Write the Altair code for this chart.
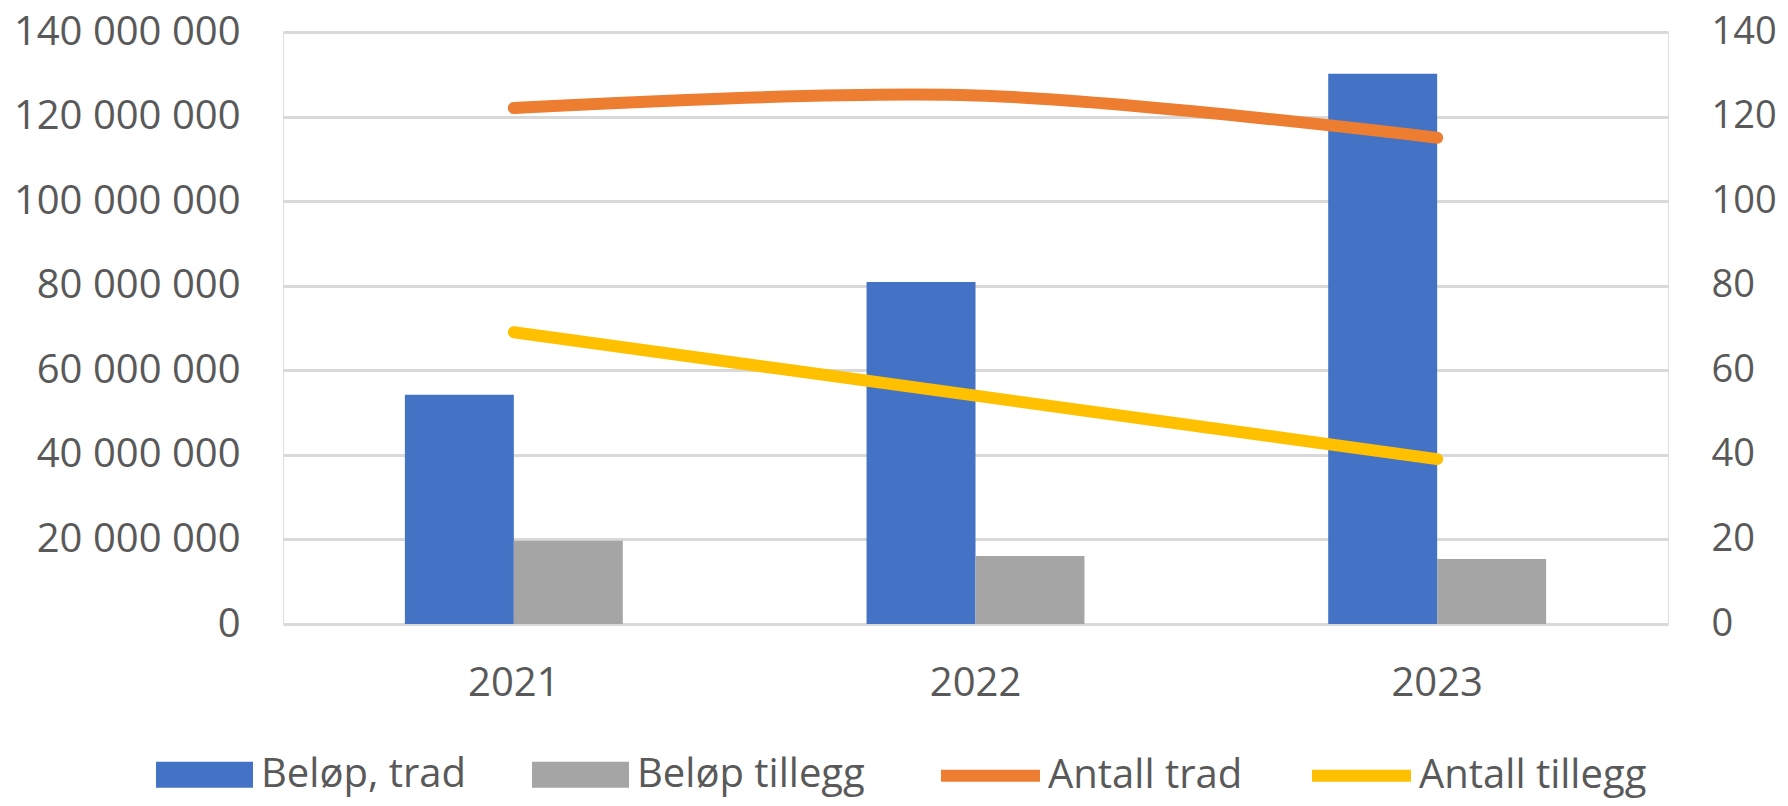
import altair as alt
import pandas as pd

years = ["2021", "2022", "2023"]
belop_trad = [54_200_000, 80_900_000, 130_100_000]
belop_tillegg = [19_700_000, 16_100_000, 15_400_000]
antall_trad = [122, 125, 115]
antall_tillegg = [69, 54, 39]

bar_series = ["Beløp, trad", "Beløp tillegg"]
line_series = ["Antall trad", "Antall tillegg"]
bar_colors = ["#4472C4", "#A5A5A5"]
line_colors = ["#ED7D31", "#FFC000"]

bars_df = pd.DataFrame(
    [{"year": y, "serie": bar_series[0], "value": v} for y, v in zip(years, belop_trad)]
    + [{"year": y, "serie": bar_series[1], "value": v} for y, v in zip(years, belop_tillegg)]
)
lines_df = pd.DataFrame(
    [{"year": y, "serie": line_series[0], "value": v} for y, v in zip(years, antall_trad)]
    + [{"year": y, "serie": line_series[1], "value": v} for y, v in zip(years, antall_tillegg)]
)

FONT = "Open Sans"
TXT = "#595959"

x_enc = alt.X(
    "year:N",
    sort=years,
    scale=alt.Scale(paddingInner=0.528, paddingOuter=0.264),
    axis=alt.Axis(
        title=None, labelFontSize=40, labelColor=TXT, labelFont=FONT, labelLimit=0,
        ticks=False, tickSize=0, domain=False, labelPadding=39, labelAngle=0, grid=False,
    ),
)

bars = alt.Chart(bars_df).mark_bar().encode(
    x=x_enc,
    xOffset=alt.XOffset("serie:N", sort=bar_series, scale=alt.Scale(paddingInner=0, paddingOuter=0)),
    y=alt.Y(
        "value:Q",
        scale=alt.Scale(domain=[0, 140_000_000], nice=False),
        axis=alt.Axis(
            title=None, orient="left",
            values=[0, 20_000_000, 40_000_000, 60_000_000, 80_000_000, 100_000_000, 120_000_000, 140_000_000],
            labelExpr="replace(replace(format(datum.value, ','), ',', ' '), ',', ' ')",
            labelFontSize=40, labelColor=TXT, labelFont=FONT, labelPadding=43, labelLimit=0,
            ticks=False, tickSize=0, domain=False,
            grid=True, gridColor="#D9D9D9", gridWidth=3,
        ),
    ),
    color=alt.Color(
        "serie:N",
        scale=alt.Scale(domain=bar_series, range=bar_colors),
        legend=alt.Legend(
            title=None, orient="none", direction="horizontal",
            legendX=-127, legendY=694,
            symbolType="M-1,-0.268H1V0.268H-1Z", symbolSize=9409, symbolStrokeWidth=0,
            labelFontSize=40, labelColor=TXT, labelFont=FONT, labelOffset=8, labelLimit=0,
            columnPadding=66, padding=0,
        ),
    ),
)

lines = alt.Chart(lines_df).mark_line(
    strokeWidth=12, strokeCap="round", strokeJoin="round", interpolate="cardinal", tension=0
).encode(
    x=alt.X("year:N", sort=years),
    y=alt.Y(
        "value:Q",
        scale=alt.Scale(domain=[0, 140], nice=False),
        axis=alt.Axis(
            title=None, orient="right",
            values=[0, 20, 40, 60, 80, 100, 120, 140],
            labelFontSize=38, labelColor=TXT, labelFont=FONT, labelPadding=43, labelLimit=0,
            ticks=False, tickSize=0, domain=False, grid=False,
        ),
    ),
    color=alt.Color(
        "serie:N",
        scale=alt.Scale(domain=line_series, range=line_colors),
        legend=alt.Legend(
            title=None, orient="none", direction="horizontal",
            legendX=652, legendY=688,
            symbolType="stroke", symbolSize=9801, symbolStrokeWidth=12,
            labelFontSize=40, labelColor=TXT, labelFont=FONT, labelOffset=2, labelLimit=0,
            columnPadding=45, padding=0,
        ),
    ),
)

chart = (
    alt.layer(bars, lines)
    .resolve_scale(y="independent", color="independent")
    .properties(
        width=1385,
        height=592,
        autosize=alt.AutoSizeParams(type="none"),
        padding={"left": 275, "top": 24, "right": 112, "bottom": 174},
    )
    .configure_view(stroke=None)
    .configure(background="white")
)

chart.save("out.html", embed_options={"renderer": "svg", "actions": False})
